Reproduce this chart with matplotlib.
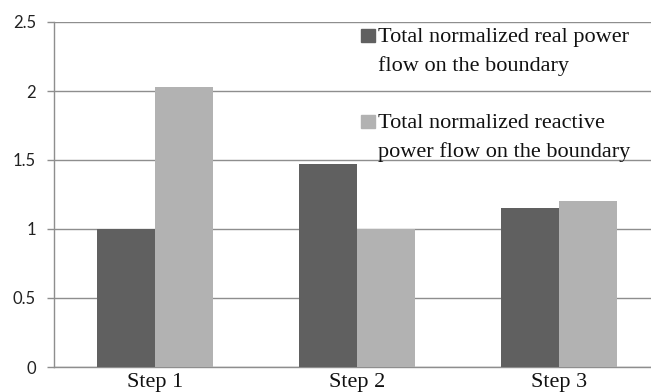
import numpy as np
import matplotlib.pyplot as plt

pasos = ['Step 1', 'Step 2', 'Step 3']
real = [1.00, 1.47, 1.15]
reactiva = [2.03, 1.00, 1.20]
etiqueta_real = 'Total normalized real power\nflow on the boundary'
etiqueta_reactiva = 'Total normalized reactive\npower flow on the boundary'
yticks = [0, 0.5, 1, 1.5, 2, 2.5]

color_real = '#606060'
color_reactiva = '#b2b2b2'
color_grid = '#8e8e8e'
serif = ['Liberation Serif', 'DejaVu Serif']

fig = plt.figure(figsize=(6.51, 3.92), dpi=100)
# el eje se extiende un poco más allá del borde derecho, como en el original
ax = fig.add_axes([54 / 651, 1 - 367 / 392, 606 / 651, 345 / 392])

x = np.arange(len(pasos))
ancho = 0.2857
ax.bar(x - ancho / 2, real, ancho, color=color_real, zorder=3)
ax.bar(x + ancho / 2, reactiva, ancho, color=color_reactiva, zorder=3)

ax.set_xlim(-0.5, len(pasos) - 0.5)
ax.set_ylim(0, 2.5)
ax.set_yticks(yticks)
ax.set_yticklabels([f'{v:g}' for v in yticks], family='Lato', fontsize=12, color='#222222')
ax.set_xticks(x)
ax.set_xticklabels(pasos, family=serif, fontsize=16, color='#111111')
ax.tick_params(axis='x', length=0, pad=4)
ax.tick_params(axis='y', length=5, width=1, color=color_grid, pad=8)
ax.yaxis.grid(True, color=color_grid, linewidth=1, zorder=0)
ax.set_axisbelow(True)

for lado in ['top', 'right']:
    ax.spines[lado].set_visible(False)
for lado in ['left', 'bottom']:
    ax.spines[lado].set_color(color_grid)
    ax.spines[lado].set_linewidth(1)

# leyenda a mano: cuadro alineado con la primera línea de cada etiqueta
for etiqueta, color, base in [(etiqueta_real, color_real, 42),
                              (etiqueta_reactiva, color_reactiva, 128)]:
    fig.patches.append(plt.Rectangle((361 / 651, 1 - base / 392), 14 / 651, 13 / 392,
                                     transform=fig.transFigure, color=color, zorder=5))
    for i, linea in enumerate(etiqueta.split('\n')):
        fig.text(378 / 651, 1 - (base + 29 * i) / 392, linea, family=serif, fontsize=16,
                 va='baseline', ha='left', color='#111111')

fig.savefig('out.png', dpi=100)
